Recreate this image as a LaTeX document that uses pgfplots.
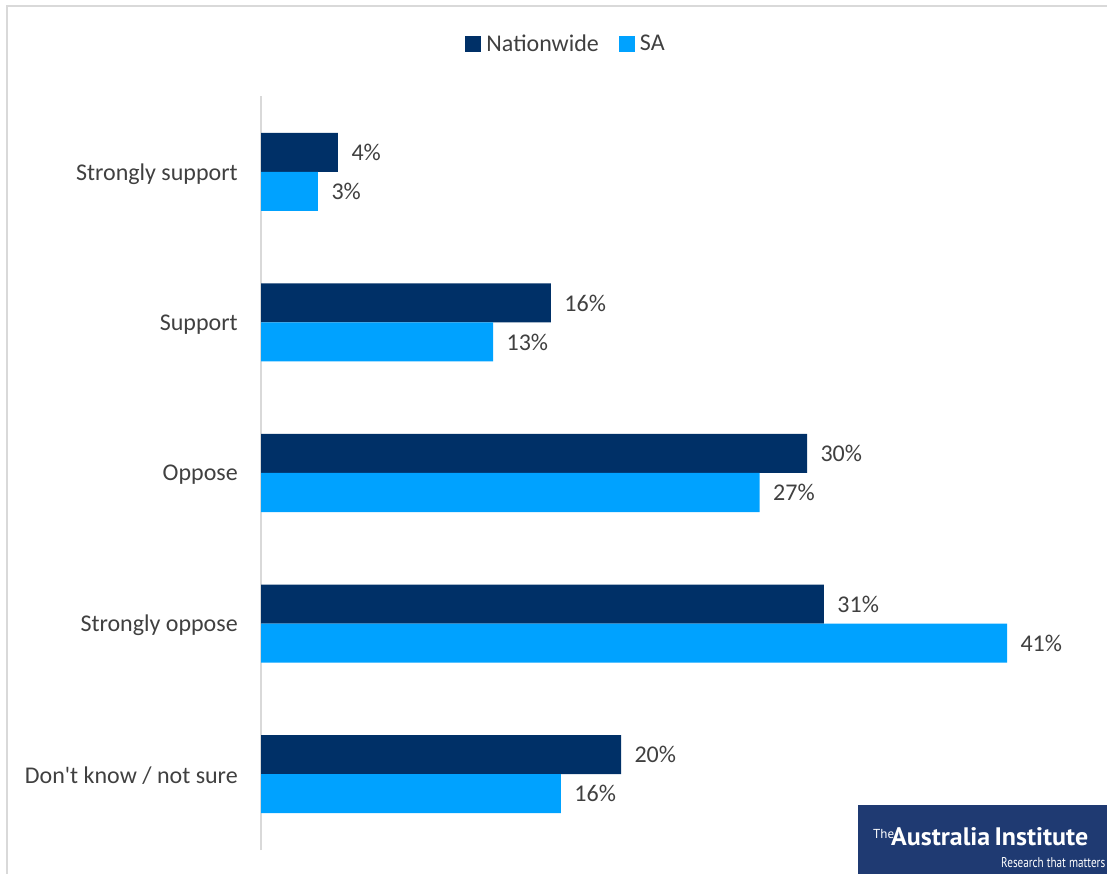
\documentclass[border=0pt]{standalone}
\usepackage{pgfplots}
\pgfplotsset{compat=1.18}
\usepackage{fontspec}
\setmainfont{Carlito}[Ligatures=TeXOff]
\newfontfamily\logofont{PT Sans}
\definecolor{navy}{HTML}{003067}
\definecolor{sky}{HTML}{00A2FF}
\definecolor{txt}{HTML}{404040}
\definecolor{logoblue}{HTML}{1F3A72}
\definecolor{framec}{HTML}{D9D9D9}
\begin{document}
\begin{tikzpicture}
\useasboundingbox (0,0) rectangle (1107pt,-874pt);
\draw[framec, line width=2pt] (7pt,-874pt) -- (7pt,-6pt) -- (1107pt,-6pt);
\begin{axis}[
  at={(261pt,-850pt)}, anchor=south west,
  x=18.2pt, y=150.5pt,
  xmin=0, xmax=46, ymin=-0.505, ymax=4.505,
  xbar, bar width=39pt,
  axis x line=none,
  axis y line=left,
  y axis line style={-, draw=framec, line width=1.5pt},
  ytick={0,1,2,3,4},
  yticklabels={Don't know / not sure, Strongly oppose, Oppose, Support, Strongly support},
  major tick length=0pt,
  yticklabel style={font=\fontsize{24}{29}\selectfont, text=txt, inner sep=0pt, xshift=-23pt, yshift=-2pt},
  point meta=explicit symbolic,
  nodes near coords={\pgfplotspointmeta\%},
  every node near coord/.append style={anchor=west, font=\fontsize{24}{29}\selectfont, text=txt, xshift=10pt},
  legend columns=2,
  legend style={at={(axis description cs:0.3644,1.069)}, anchor=center, draw=none, fill=none,
    font=\fontsize{24}{29}\selectfont, text=txt, inner sep=0pt,
    /tikz/every even column/.append style={column sep=18pt}},
  legend image code/.code={\draw[#1,draw=none] (0pt,-8pt) rectangle (16pt,8pt); \path (19pt,0pt);},
  clip=false,
]
\addplot[fill=navy, draw=none, bar shift=19.5pt] table[x=x, y=y, meta=lab] {
x y lab
4.23 4 4
15.93 3 16
30.0 2 30
30.93 1 31
19.78 0 20
};
\addlegendentry{Nationwide}
\addplot[fill=sky, draw=none, bar shift=-19.5pt] table[x=x, y=y, meta=lab] {
x y lab
3.13 4 3
12.75 3 13
27.4 2 27
40.99 1 41
16.48 0 16
};
\addlegendentry{SA}
\end{axis}
\fill[logoblue] (858pt,-805pt) rectangle (1107pt,-874pt);
\node[anchor=base west, text=white, inner sep=0pt, font=\logofont\fontsize{13}{13}\selectfont] at (873pt,-838pt) {The};
\node[anchor=base west, text=white, inner sep=0pt] at (891pt,-845pt) {\resizebox{197pt}{18pt}{\logofont\bfseries Australia\,Institute}};
\node[anchor=base west, text=white, inner sep=0pt] at (1001pt,-867pt) {\resizebox{104pt}{10pt}{\logofont Research that matters}};
\end{tikzpicture}
\end{document}
